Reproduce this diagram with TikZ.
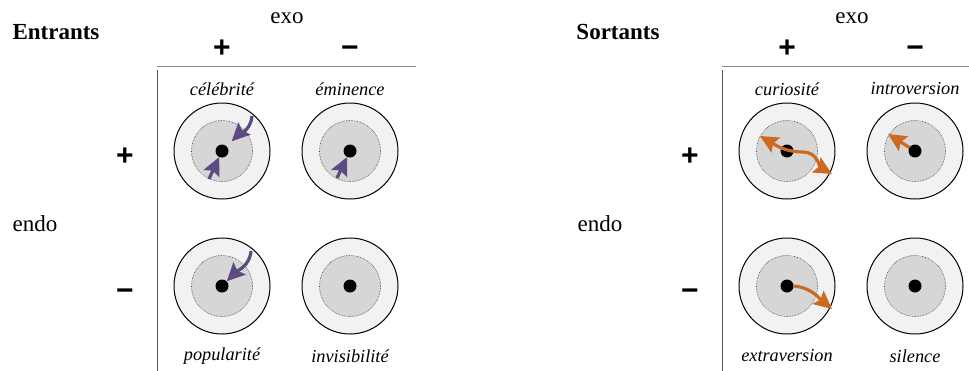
\documentclass[tikz,border=0pt]{standalone}
\usepackage{fontspec}
\setmainfont{Liberation Serif}
\newfontfamily\signfont{Liberation Sans}
\usetikzlibrary{arrows.meta}

\definecolor{ringfill}{HTML}{F2F2F2}
\definecolor{corefill}{HTML}{D6D6D6}
\definecolor{inflow}{HTML}{5C4A80}
\definecolor{outflow}{HTML}{CD6A1F}
\definecolor{rulegray}{HTML}{8C8C8C}
\definecolor{stemgray}{HTML}{555555}

% One target: outer ring, dotted inner zone, black core
\newcommand\target[2]{%
  \node[ring] (r-#1) at (#2) {};
  \node[zone] (z-#1) at (#2) {};
  \node[core] (d-#1) at (#2) {};
}

\begin{document}
\begin{tikzpicture}[x=1pt,y=-1pt,
  ring/.style={circle,draw=black,line width=1pt,fill=ringfill,minimum size=96pt,inner sep=0pt},
  zone/.style={circle,draw=black!75,densely dotted,line width=0.6pt,fill=corefill,minimum size=61pt,inner sep=0pt},
  core/.style={circle,fill=black,minimum size=13pt,inner sep=0pt},
  title/.style={font=\bfseries\fontsize{23}{27}\selectfont},
  axislabel/.style={font=\fontsize{23}{27}\selectfont},
  sign/.style={font=\signfont\bfseries\fontsize{30}{34}\selectfont,anchor=base,inner sep=0pt},
  cellname/.style={font=\itshape\fontsize{18.3}{22}\selectfont},
  flow/.style={line width=3.2pt,-{Stealth[length=18pt 0 0,width=17pt 0 0,inset=3pt]}},
  twoflow/.style={line width=3.2pt,{Stealth[length=18pt 0 0,width=17pt 0 0,inset=3pt]}-{Stealth[length=18pt 0 0,width=17pt 0 0,inset=3pt]}},
  hrule/.style={draw=rulegray,line width=1pt},
  vrule/.style={draw=stemgray,line width=1pt}]

\useasboundingbox (0,0) rectangle (969,370);

% ---------------- Entrants ----------------
\node[title] (t-e) at (56,32) {Entrants};
\node[axislabel] (exo-e) at (287,18) {exo};
\node[sign] (px-e) at (222,57) {+};
\node[sign] (mx-e) at (350,57) {−};
\node[axislabel] (endo-e) at (35,224) {endo};
\node[sign] (py-e) at (125,165) {+};
\node[sign] (my-e) at (125,300) {−};
\coordinate (hl-e) at (157,66);
\coordinate (hr-e) at (416,66);
\coordinate (vt-e) at (157,70);
\coordinate (vb-e) at (157,372);
\draw[hrule] (hl-e) -- (hr-e);
\draw[vrule] (vt-e) -- (vb-e);

\target{ea}{222,151}
\target{eb}{350,151}
\target{ec}{222,286}
\target{ed}{350,286}

\node[cellname] (n-ea) at (222,89) {célébrité};
\node[cellname] (n-eb) at (350,89) {éminence};
\node[cellname] (n-ec) at (222,356) {popularité};
\node[cellname] (n-ed) at (350,356) {invisibilité};

\coordinate (s-ea1) at (252,116);
\coordinate (s-ea2) at (209,179);
\coordinate (s-eb) at (337,178);
\coordinate (s-ec) at (251,251);
\draw[flow,inflow,shorten >=7pt] (s-ea1) to[out=-95,in=45] (d-ea);
\draw[flow,inflow] (s-ea2) -- (d-ea);
\draw[flow,inflow] (s-eb) -- (d-eb);
\draw[flow,inflow] (s-ec) to[out=-95,in=45] (d-ec);

% ---------------- Sortants ----------------
\node[title] (t-s) at (618,32) {Sortants};
\node[axislabel] (exo-s) at (852,18) {exo};
\node[sign] (px-s) at (787,57) {+};
\node[sign] (mx-s) at (915,57) {−};
\node[axislabel] (endo-s) at (600,224) {endo};
\node[sign] (py-s) at (690,165) {+};
\node[sign] (my-s) at (690,300) {−};
\coordinate (hl-s) at (722,66);
\coordinate (hr-s) at (981,66);
\coordinate (vt-s) at (722,70);
\coordinate (vb-s) at (722,372);
\draw[hrule] (hl-s) -- (hr-s);
\draw[vrule] (vt-s) -- (vb-s);

\target{sa}{787,151}
\target{sb}{915,151}
\target{sc}{787,286}
\target{sd}{915,286}

\node[cellname] (n-sa) at (787,89) {curiosité};
\node[cellname] (n-sb) at (915,89) {introversion};
\node[cellname] (n-sc) at (787,356) {extraversion};
\node[cellname] (n-sd) at (915,356) {silence};

\coordinate (a-sa) at (760,136);
\coordinate (m-sa) at (803,152);
\coordinate (b-sa) at (832,174);
\coordinate (e-sb) at (888,134);
\coordinate (e-sc) at (832,309);
\draw[twoflow,outflow] (a-sa) to[out=-30,in=180] (m-sa) to[out=0,in=150] (b-sa);
\draw[flow,outflow] (d-sb) -- (e-sb);
\draw[flow,outflow] (d-sc.east) to[out=-5,in=140] (e-sc);

\end{tikzpicture}
\end{document}
